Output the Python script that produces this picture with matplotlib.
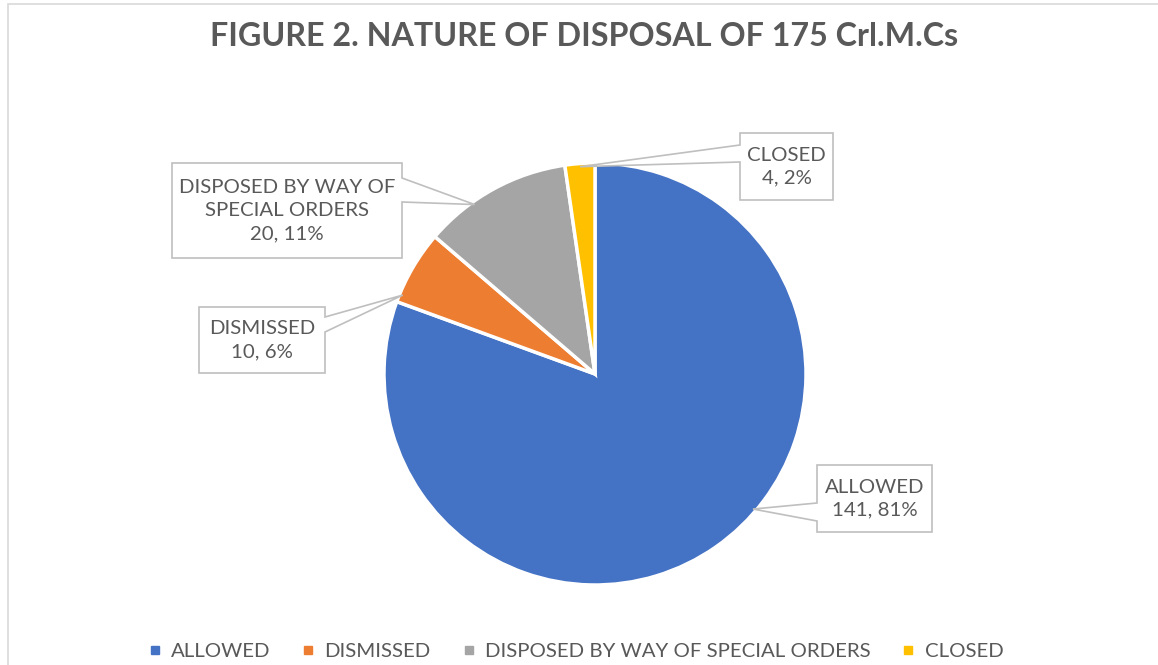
import numpy as np
import matplotlib
matplotlib.use("Agg")
import matplotlib.pyplot as plt
from matplotlib.patches import Polygon, Rectangle
from matplotlib.lines import Line2D

categories = ["ALLOWED", "DISMISSED", "DISPOSED BY WAY OF SPECIAL ORDERS", "CLOSED"]
box_names = ["ALLOWED", "DISMISSED", "DISPOSED BY WAY OF\nSPECIAL ORDERS", "CLOSED"]
counts = [141, 10, 20, 4]
colors = ["#4472C4", "#ED7D31", "#A5A5A5", "#FFC000"]
title = "FIGURE 2. NATURE OF DISPOSAL OF 175 Crl.M.Cs"

W, H = 1158, 665
TXT = "#595959"
EDGE = "#BFBFBF"
FONT = "Lato"

# callout layout in pixels (top-based): box x0, y0, x1, y1, side of pointer, pointer base y0/y1,
# and where along the wedge the pointer lands (fraction of the clockwise sweep)
callouts = [
    dict(box=(817, 465, 932, 532), side="left", base=(503, 521), frac=0.45),
    dict(box=(199, 307, 325, 373), side="right", base=(317, 332), frac=0.11),
    dict(box=(172, 163, 402, 258), side="right", base=(178, 202), frac=0.34),
    dict(box=(740, 133, 833, 200), side="left", base=(145, 162), frac=0.5),
]

cx, cy, R = 595, 374, 211

fig = plt.figure(figsize=(W / 100, H / 100), dpi=100)
ax = fig.add_axes([0, 0, 1, 1])


def fy(y):
    return H - y


wedges, _ = ax.pie(counts, colors=colors, startangle=90, counterclock=False,
                   center=(cx, fy(cy)), radius=R,
                   wedgeprops=dict(edgecolor="white", linewidth=2.5))
ax.set_xlim(0, W)
ax.set_ylim(0, H)
ax.set_aspect("auto")
ax.axis("off")

total = sum(counts)
for w, name, n, c in zip(wedges, box_names, counts, callouts):
    # clockwise pie: sweep starts at theta2
    th = np.radians(w.theta2 + c["frac"] * (w.theta1 - w.theta2))
    tx = cx + 0.985 * R * np.cos(th)
    ty = cy - 0.985 * R * np.sin(th)
    x0, y0, x1, y1 = c["box"]
    b0, b1 = c["base"]
    if c["side"] == "left":
        pts = [(x0, y0), (x1, y0), (x1, y1), (x0, y1), (x0, b1), (tx, ty), (x0, b0)]
    else:
        pts = [(x0, y0), (x1, y0), (x1, b0), (tx, ty), (x1, b1), (x1, y1), (x0, y1)]
    pts = [(px, fy(py)) for px, py in pts]
    ax.add_patch(Polygon(pts, closed=True, facecolor="white", edgecolor=EDGE,
                         linewidth=1.2, zorder=3))
    pct = round(n / total * 100)
    ax.text((x0 + x1) / 2, fy((y0 + y1) / 2), f"{name}\n{n}, {pct}%",
            ha="center", va="center", multialignment="center", fontsize=14.7,
            family=FONT, color=TXT, linespacing=1.42, zorder=4)

# chart area border
ax.add_patch(Rectangle((8, -10), W + 10, fy(4) + 10, facecolor="none",
                       edgecolor="#D9D9D9", linewidth=1.2, zorder=1))

fig.text(584 / W, 1 - 37 / H, title, ha="center", va="center", fontsize=23.2,
         fontweight="bold", family=FONT, color=TXT)

handles = [Line2D([], [], marker="s", linestyle="none", markersize=6, color=col)
           for col in colors]
leg = fig.legend(handles, categories, loc="center", bbox_to_anchor=(576 / W, 1 - 651 / H),
                 ncol=4, frameon=False, handlelength=0.6, handletextpad=0.5,
                 columnspacing=1.55, prop=dict(family=FONT, size=14.7))
for t in leg.get_texts():
    t.set_color(TXT)

fig.savefig("out.png", dpi=100)
